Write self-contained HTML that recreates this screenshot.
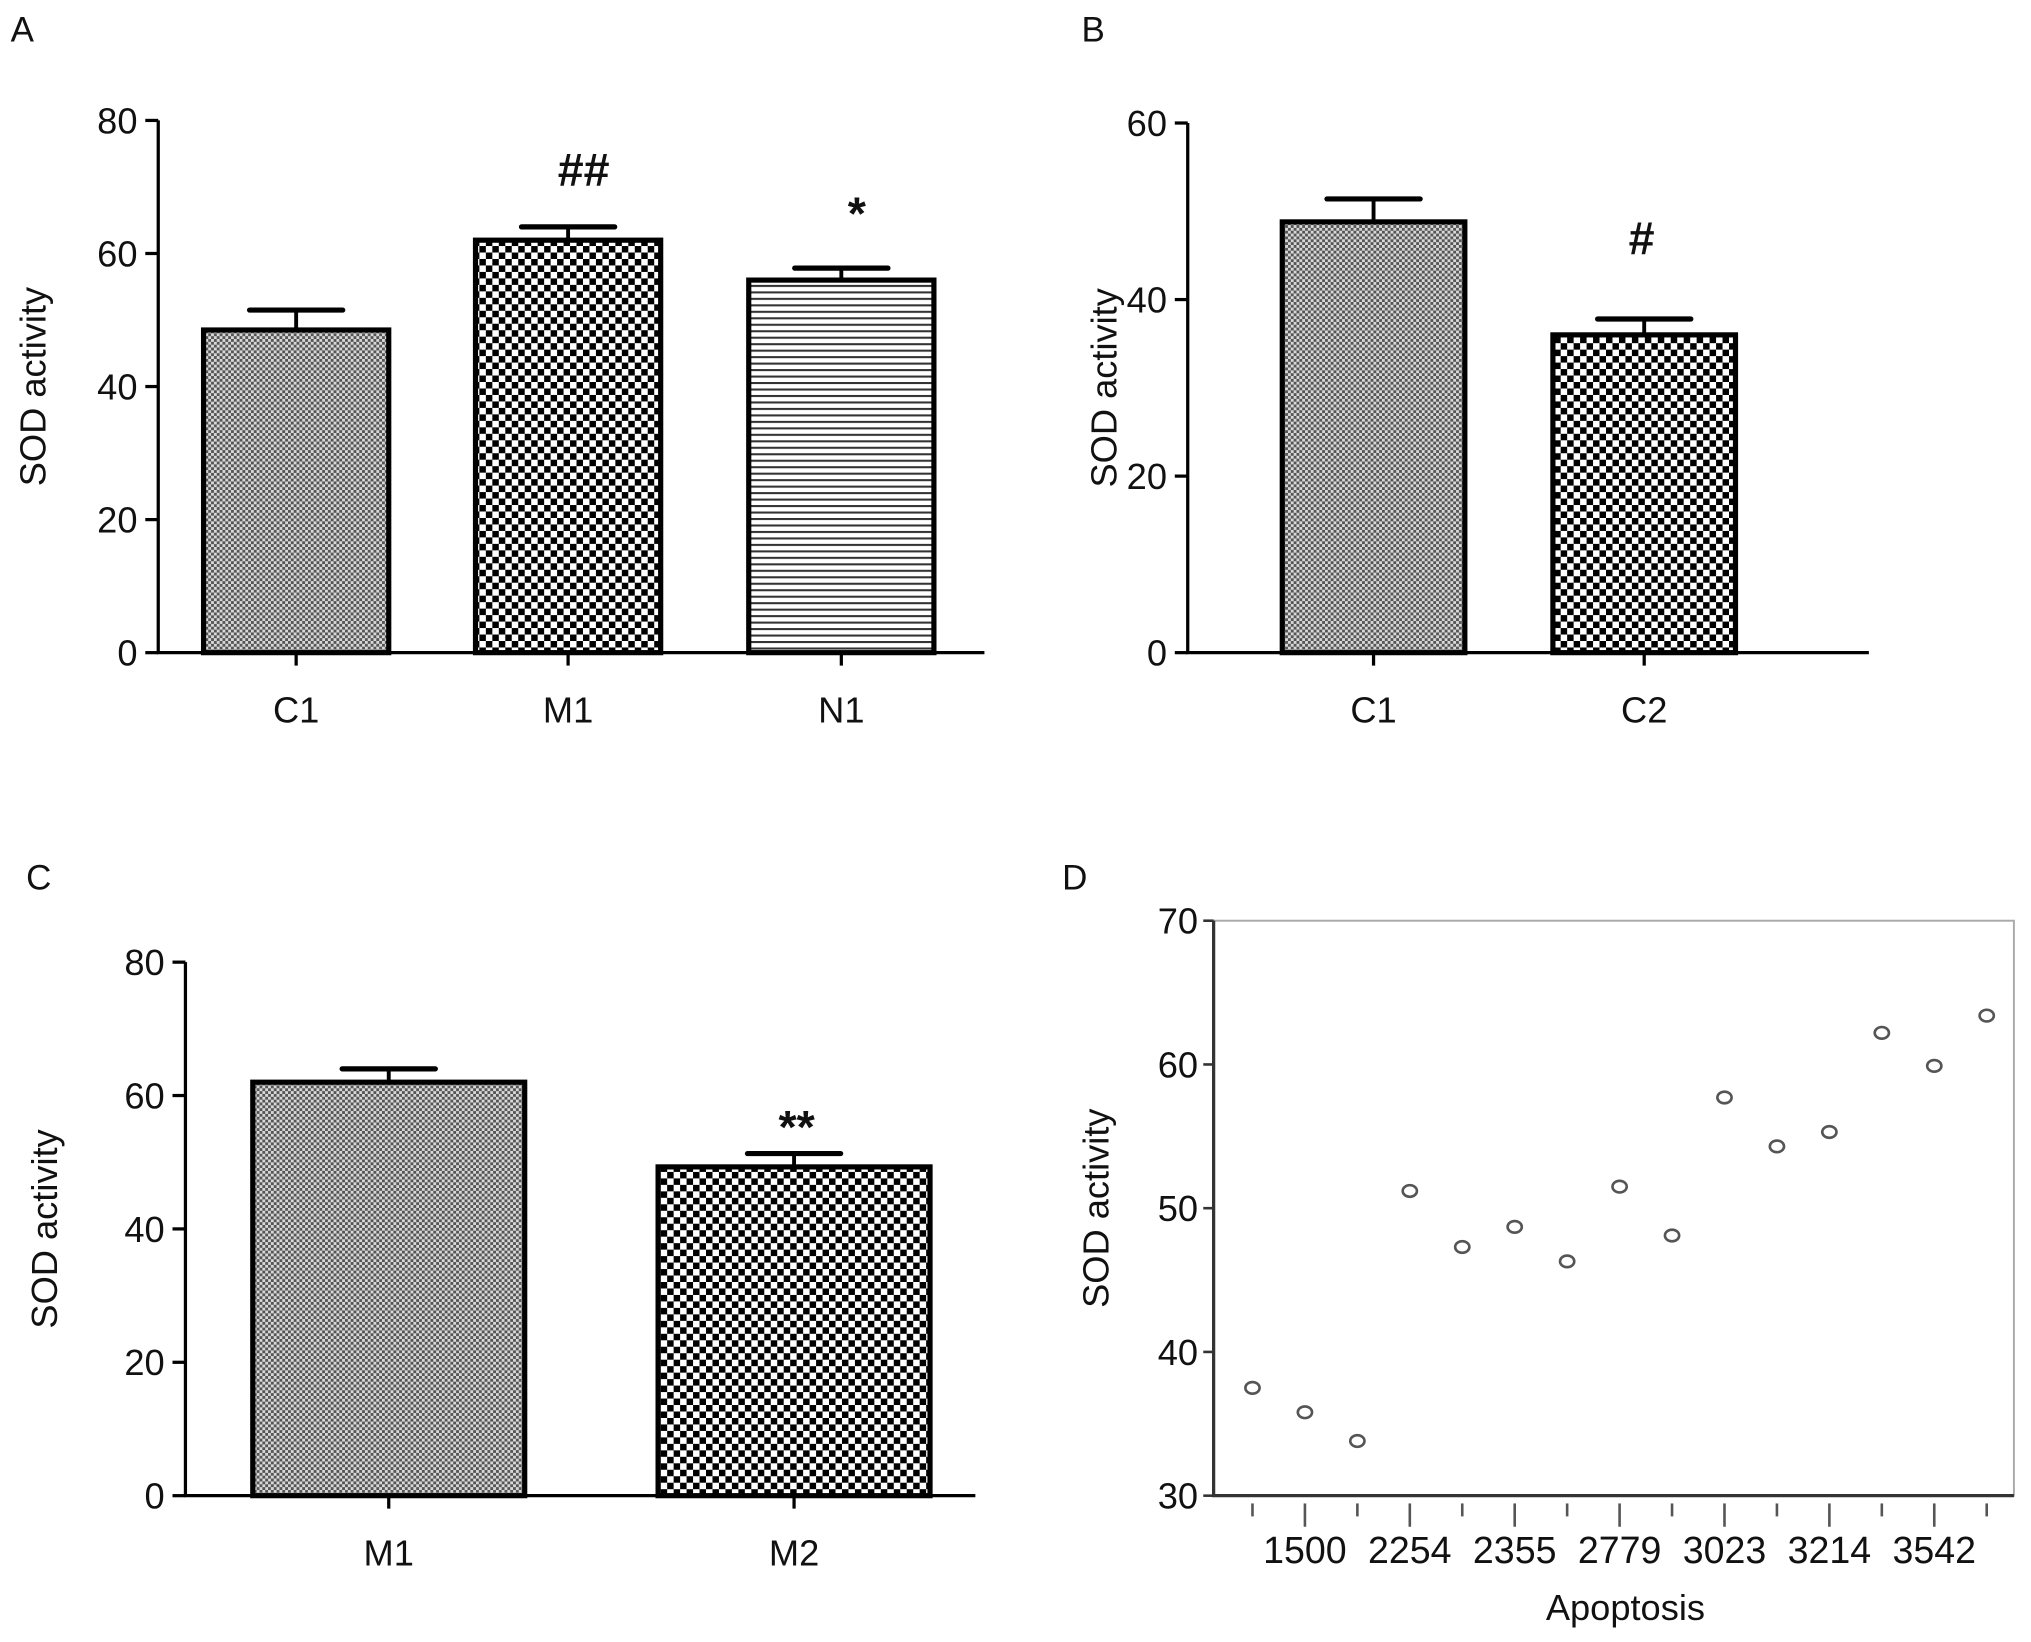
<!DOCTYPE html>
<html><head><meta charset="utf-8"><style>
html,body{margin:0;padding:0;background:#fff;}
svg{display:block;}
text{font-family:"Liberation Sans",Arial,sans-serif;fill:#111;}
</style></head><body>
<svg id="fig" width="2031" height="1642" viewBox="0 0 1568 1268" xmlns="http://www.w3.org/2000/svg">
<defs>
<pattern id="fine" width="4.4" height="4.4" patternUnits="userSpaceOnUse"><rect width="4.4" height="4.4" fill="#d8d8d8"/><rect width="2.2" height="2.2" fill="#555"/><rect x="2.2" y="2.2" width="2.2" height="2.2" fill="#555"/></pattern>
<pattern id="check" width="10" height="10" patternUnits="userSpaceOnUse"><rect width="10" height="10" fill="#fff"/><rect width="5" height="5" fill="#000"/><rect x="5" y="5" width="5" height="5" fill="#000"/></pattern>
<pattern id="hlines" width="6" height="5" patternUnits="userSpaceOnUse"><rect width="6" height="5" fill="#fff"/><rect y="0" width="6" height="1.6" fill="#333"/></pattern>
</defs>
<g id="root"></g>
</svg>
<script>
// Panel A data
const catsA = ["C1","M1","N1"];
const valsA = [48.5, 62, 56];
const errsA = [3, 2, 1.8];
const ticksA = [0,20,40,60,80];
const annA = ["", "##", "*"];
// Panel B data
const catsB = ["C1","C2"];
const valsB = [48.8, 36];
const errsB = [2.6, 1.8];
const ticksB = [0,20,40,60];
const annB = ["", "#"];
// Panel C data
const catsC = ["M1","M2"];
const valsC = [62, 49.3];
const errsC = [2, 2];
const ticksC = [0,20,40,60,80];
const annC = ["", "**"];
// Panel D data
const catsD = ["1200","1500","1900","2254","2300","2355","2600","2779","2900","3023","3100","3214","3400","3542","3700"];
const valsD = [37.5,35.8,33.8,51.2,47.3,48.7,46.3,51.5,48.1,57.7,54.3,55.3,62.2,59.9,63.4];
const ticksD = [30,40,50,60,70];

const NS="http://www.w3.org/2000/svg";
const root=document.getElementById('root');
function mk(tag,attrs,parent,txt){const e=document.createElementNS(NS,tag);for(const k in attrs)e.setAttribute(k,attrs[k]);if(txt!==undefined)e.textContent=txt;(parent||root).appendChild(e);return e;}

function barPanel(o){
  const g=mk('g',{});
  
  
  const y=v=>o.y0-(v-o.min)/(o.max-o.min)*(o.y0-o.ytop);
  const t=mk('text',{x:o.lx,y:o.ly,'font-size':27},g,o.letter);
  
  
  const ax=mk('path',{d:`M${o.ax},${o.ytop}V${o.y0}H${o.xend}`,stroke:'#000','stroke-width':2.5,fill:'none'},g);
  
  
  o.ticks.forEach(v=>{
    mk('line',{x1:o.ax-10,x2:o.ax,y1:y(v),y2:y(v),stroke:'#000','stroke-width':2.5},g);
    const tl=mk('text',{x:o.ax-16,y:y(v)+10,'font-size':28,'text-anchor':'end'},g,String(v));
    
    
  });
  const yt=mk('text',{x:0,y:0,'font-size':28,'text-anchor':'middle',transform:`translate(${o.ytx},${(o.ytop+o.y0)/2}) rotate(-90)`},g,'SOD activity');
  
  
  o.cats.forEach((c,i)=>{
    const x0=o.bx[i], w=o.bw, cx=x0+w/2;
    const ee=y(o.vals[i]+o.errs[i]);
    mk('line',{x1:cx,x2:cx,y1:ee,y2:y(o.vals[i]),stroke:'#000','stroke-width':3},g);
    mk('line',{x1:cx-36,x2:cx+36,y1:ee,y2:ee,stroke:'#000','stroke-width':4,'stroke-linecap':'round'},g);
    const b=mk('rect',{x:x0,y:y(o.vals[i]),width:w,height:o.y0-y(o.vals[i]),fill:`url(#${o.pats[i]})`,stroke:'#000','stroke-width':4},g);
    
    
    mk('line',{x1:cx,x2:cx,y1:o.y0,y2:o.y0+10,stroke:'#000','stroke-width':2.5},g);
    const xl=mk('text',{x:cx,y:o.y0+54,'font-size':28,'text-anchor':'middle'},g,c);
    
    
    if(o.ann[i]){
      const a=mk('text',{x:cx+o.annDx,y:ee-o.annOff[i],'font-size':36,'font-weight':'bold','text-anchor':'middle'},g,o.ann[i]);
      
      
    }
  });
}
barPanel({name:'panel-a',letter:'A',lx:8,ly:32,ax:122,ytop:93,y0:504,min:0,max:80,xend:760,ytx:35,ticks:ticksA,cats:catsA,vals:valsA,errs:errsA,ann:annA,annOff:[0,32,30],annDx:12,bx:[157,367,578],bw:143,pats:['fine','check','hlines']});
barPanel({name:'panel-b',letter:'B',lx:835,ly:32,ax:917,ytop:95,y0:504,min:0,max:60,xend:1443,ytx:862,ticks:ticksB,cats:catsB,vals:valsB,errs:errsB,ann:annB,annOff:[0,50],annDx:-2,bx:[990,1199],bw:141,pats:['fine','check']});
barPanel({name:'panel-c',letter:'C',lx:20,ly:687,ax:143,ytop:743,y0:1155,min:0,max:80,xend:753,ytx:44,ticks:ticksC,cats:catsC,vals:valsC,errs:errsC,ann:annC,annOff:[0,8],annDx:2,bx:[195,508],bw:210,pats:['fine','check']});

// Panel D scatter
(function(){
  const g=mk('g',{});
  
  
  const L=937,R=1555,T=711,B=1155,min=30,max=70;
  const y=v=>B-(v-min)/(max-min)*(B-T);
  const x=i=>967+i*40.5;
  const t=mk('text',{x:820,y:687,'font-size':27},g,'D');
  
  
  const box=mk('rect',{x:L,y:T,width:R-L,height:B-T,fill:'none',stroke:'#aaa','stroke-width':1.5},g);
  
  
  mk('path',{d:`M${L},${T}V${B}H${R}`,stroke:'#333','stroke-width':2.5,fill:'none'},g);
  ticksD.forEach(v=>{
    mk('line',{x1:L-8,x2:L,y1:y(v),y2:y(v),stroke:'#333','stroke-width':2},g);
    const tl=mk('text',{x:L-12,y:y(v)+10,'font-size':28,'text-anchor':'end'},g,String(v));
    
    
  });
  catsD.forEach((c,i)=>{
    const long=i%2===1;
    mk('line',{x1:x(i),x2:x(i),y1:B+6,y2:B+(long?24:16),stroke:'#555','stroke-width':2},g);
    if(long){
      const xl=mk('text',{x:x(i),y:B+52,'font-size':29,'text-anchor':'middle'},g,c);
      
      
    }
    const p=mk('ellipse',{cx:x(i),cy:y(valsD[i]),rx:5.5,ry:4.5,fill:'none',stroke:'#555','stroke-width':2},g);
    
    
  });
  const xt=mk('text',{x:1255,y:1251,'font-size':28,'text-anchor':'middle'},g,'Apoptosis');
  
  
  const yt=mk('text',{x:0,y:0,'font-size':28,'text-anchor':'middle',transform:`translate(856,${(T+B)/2}) rotate(-90)`},g,'SOD activity');
  
  
})();
</script>
</body></html>
